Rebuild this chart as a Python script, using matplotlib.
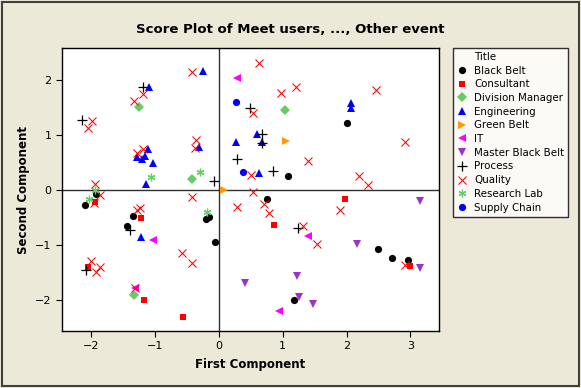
import matplotlib
matplotlib.use("Agg")
import matplotlib.pyplot as plt
from matplotlib.lines import Line2D
from matplotlib.patches import Rectangle

# score coordinates per group (first component, second component)
black_belt_x = [-2.10, -1.93, -1.35, -1.44, -0.21, -0.16, -0.06, 1.09, 0.76, 1.18, 2.01, 2.50, 2.72, 2.96]
black_belt_y = [-0.27, -0.07, -0.47, -0.65, -0.53, -0.49, -0.94, 0.26, -0.16, -1.99, 1.22, -1.07, -1.24, -1.27]

consultant_x = [-1.95, -1.22, -2.05, -1.17, -0.56, 0.87, 1.97, 2.99]
consultant_y = [-0.21, -0.51, -1.40, -1.99, -2.30, -0.63, -0.16, -1.38]

division_x = [-1.25, -0.43, -1.33, 1.04]
division_y = [1.51, 0.20, -1.90, 1.45]

engineering_x = [-0.25, -1.09, -0.31, -1.11, -1.28, -1.21, -1.16, -1.04, -1.15, -1.22, 0.26, 0.59, 0.68, 0.62, 2.07, 2.07]
engineering_y = [2.16, 1.87, 0.79, 0.75, 0.60, 0.56, 0.62, 0.50, 0.11, -0.85, 0.88, 1.02, 0.87, 0.31, 1.58, 1.50]

green_belt_x = [1.05, 0.08]
green_belt_y = [0.90, 0.00]

it_x = [0.29, -1.04, -1.31, 1.39, 0.94]
it_y = [2.04, -0.91, -1.78, -0.83, -2.19]

mbb_x = [0.41, 1.23, 1.26, 1.47, 3.15, 2.16, 3.15]
mbb_y = [-1.68, -1.57, -1.95, -2.07, -0.19, -0.98, -1.42]

process_x = [-1.19, -2.15, -0.07, -2.08, -1.40, 0.49, 0.68, 0.67, 0.28, 0.85, 1.24]
process_y = [1.88, 1.28, 0.16, -1.45, -0.72, 1.49, 1.02, 0.85, 0.57, 0.35, -0.69]

quality_x = [-0.42, -1.19, -1.33, -1.99, -2.05, -0.36, -0.37, -1.29, -1.19,
             -1.95, -1.86, -1.96, -1.24, -1.29, -0.42, -0.58, -0.42, -2.01, -1.87, -1.93, -1.32,
             0.62, 1.20, 0.98, 0.54, 1.39, 0.51, 0.54, 0.29, 0.70, 0.79, 1.31, 1.53, 1.90,
             2.46, 2.92, 2.19, 2.33, 2.92]
quality_y = [2.14, 1.75, 1.61, 1.26, 1.13, 0.91, 0.76, 0.67, 0.75,
             0.11, -0.09, -0.24, -0.33, -0.37, -0.13, -1.15, -1.33, -1.29, -1.39, -1.48, -1.78,
             2.31, 1.88, 1.76, 1.40, 0.52, 0.27, -0.04, -0.30, -0.25, -0.42, -0.65, -0.98, -0.37,
             1.81, 0.88, 0.26, 0.09, -1.37]

research_x = [-0.29, -1.07, -1.95, -2.04, -0.19]
research_y = [0.33, 0.24, 0.00, -0.16, -0.40]

supply_x = [0.26, 0.38]
supply_y = [1.60, 0.33]

# name, x, y, marker, colour, size, edge width (0 = filled marker)
groups = [
    ("Black Belt", black_belt_x, black_belt_y, "o", "black", 5.2, 0),
    ("Consultant", consultant_x, consultant_y, "s", "#ff0000", 5, 0),
    ("Division Manager", division_x, division_y, "D", "#66cc66", 5, 0),
    ("Engineering", engineering_x, engineering_y, "^", "#0000ff", 6.2, 0),
    ("Green Belt", green_belt_x, green_belt_y, ">", "#ff9900", 6.2, 0),
    ("IT", it_x, it_y, "<", "#ff00ff", 6.2, 0),
    ("Master Black Belt", mbb_x, mbb_y, "v", "#9933cc", 6.2, 0),
    ("Process", process_x, process_y, "+", "black", 6.5, 0.9),
    ("Quality", quality_x, quality_y, "x", "#ff0000", 5.5, 0.75),
    ("Research Lab", research_x, research_y, (6, 2, 0), "#66cc66", 5.5, 0.9),
    ("Supply Chain", supply_x, supply_y, "o", "#0000ff", 5.2, 0),
]

bg = "#ece9d8"
fig = plt.figure(figsize=(5.81, 3.88), dpi=100, facecolor=bg)
fig.patches.append(Rectangle((0.004, 0.004), 0.992, 0.992, transform=fig.transFigure,
                             fill=False, edgecolor="#404040", linewidth=1.5))
ax = fig.add_axes([0.1067, 0.147, 0.649, 0.729])
ax.set_facecolor("white")

ax.axhline(0, color="#303030", linewidth=1, zorder=1)
ax.axvline(0, color="#303030", linewidth=1, zorder=1)

handles = [Line2D([], [], linestyle="none", marker=None, label="Title")]
for name, xs, ys, m, c, ms, ew in groups:
    h, = ax.plot(xs, ys, linestyle="none", marker=m, color=c, markersize=ms,
                 markeredgewidth=ew, zorder=3, label=name)
    handles.append(h)

ax.set_xlim(-2.46, 3.45)
ax.set_ylim(-2.56, 2.58)
ax.set_xticks([-2, -1, 0, 1, 2, 3])
ax.set_yticks([-2, -1, 0, 1, 2])
ax.tick_params(labelsize=8, length=4, width=0.8, direction="out")
for s in ax.spines.values():
    s.set_linewidth(1)
    s.set_color("black")

ax.set_xlabel("First Component", fontsize=8.5, fontweight="bold", labelpad=5)
ax.set_ylabel("Second Component", fontsize=8.5, fontweight="bold", labelpad=4)
fig.text(0.5, 0.923, "Score Plot of Meet users, ..., Other event", ha="center", va="center",
         fontsize=9.5, fontweight="bold")

leg = fig.legend(handles=handles, loc="upper left", bbox_to_anchor=(0.779, 0.877),
                 fontsize=7.4, frameon=True, fancybox=False, edgecolor="black",
                 handlelength=1.0, handletextpad=0.7, labelspacing=0.36,
                 borderpad=0.4, borderaxespad=0)
leg.get_frame().set_linewidth(1)

fig.savefig("out.png", dpi=100, facecolor=bg)
